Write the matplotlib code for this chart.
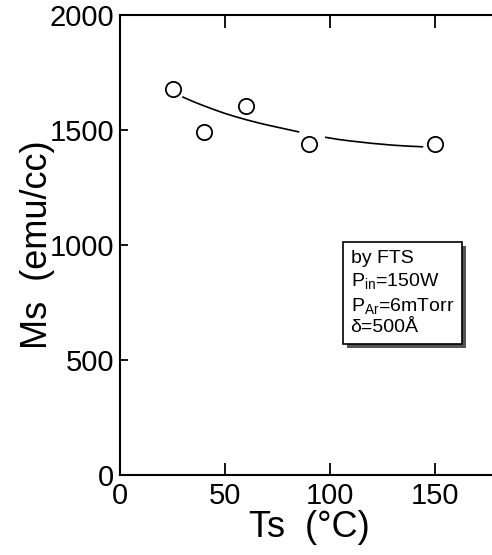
import matplotlib.pyplot as plt
import matplotlib.patheffects as pe

plt.rcParams['font.family'] = ['Liberation Sans', 'DejaVu Sans']
plt.rcParams['mathtext.fontset'] = 'custom'
plt.rcParams['mathtext.rm'] = 'Liberation Sans'

# measured points
ts = [25, 40, 60, 90, 150]
ms = [1680, 1490, 1605, 1440, 1440]

# guide curve (two pieces, gap at 90 C)
curve1_x = [30, 35, 40, 45, 50, 55, 60, 65, 70, 75, 80, 85]
curve1_y = [1643, 1623, 1605, 1588, 1572, 1558, 1545, 1533, 1522, 1512, 1502, 1492]
curve2_x = [98, 104, 110, 115, 120, 125, 130, 137, 144]
curve2_y = [1468, 1459, 1452, 1447, 1442, 1438, 1434, 1430, 1427]

xticks = [0, 50, 100, 150]
yticks = [0, 500, 1000, 1500, 2000]

fig = plt.figure(figsize=(4.92, 5.55), dpi=100)
ax = fig.add_axes([120 / 492, 80 / 555, 378 / 492, 460 / 555])

ax.plot(curve1_x, curve1_y, color='black', lw=1.2)
ax.plot(curve2_x, curve2_y, color='black', lw=1.2)
ax.plot(ts, ms, 'o', ms=11, mfc='white', mec='black', mew=1.3, zorder=3)

ax.set_xlim(0, 180)
ax.set_ylim(0, 2000)
ax.set_xticks(xticks)
ax.set_yticks(yticks)
ax.tick_params(axis='both', direction='in', top=True, right=False,
               length=9, width=1.3, color='black', labelsize=21, pad=5)
ax.tick_params(axis='y', length=6, pad=4)
for s in ax.spines.values():
    s.set_linewidth(1.5)
ax.spines['right'].set_visible(False)

ax.set_xlabel('Ts  (°C)', fontsize=26, labelpad=0)
ax.set_ylabel('Ms  (emu/cc)', fontsize=26, labelpad=-4)

txt = ('by FTS\n'
       r'P$\mathregular{_{in}}$=150W' + '\n'
       r'P$\mathregular{_{Ar}}$=6mTorr' + '\n'
       'δ=500Å')
ax.text(0.61, 0.49, txt, transform=ax.transAxes, fontsize=14,
        ha='left', va='top', linespacing=1.3,
        bbox=dict(boxstyle='square,pad=0.4', fc='white', ec='black', lw=1.2,
                  path_effects=[pe.withSimplePatchShadow(offset=(3, -3),
                                                         shadow_rgbFace='#555555',
                                                         alpha=1.0)]))

plt.savefig('out.png', dpi=100)
